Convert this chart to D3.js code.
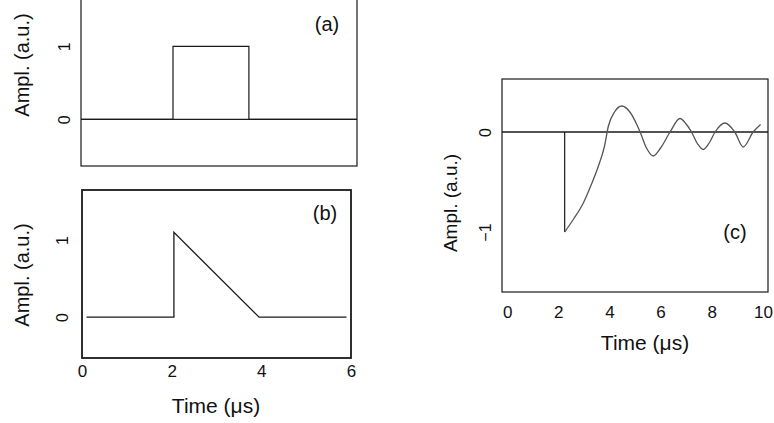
<!DOCTYPE html>
<html><head><meta charset="utf-8">
<script src="https://cdn.jsdelivr.net/npm/d3@7"></script>
<style>
body{margin:0;background:#fff;}
svg text{font-family:"Liberation Sans",Arial,Helvetica,sans-serif;fill:#111;}
</style></head>
<body><svg id="c" width="774" height="423"></svg>
<script>
// ---- data ----
const panelLabels = ["(a)", "(b)", "(c)"];
const xTicksB = [0, 2, 4, 6];
const xTicksC = [0, 2, 4, 6, 8, 10];
const yTicksAB = [0, 1];
const yTicksC = [0, -1];
// (a) rectangular pulse
const pulseA_t = [0, 2.0, 2.0, 3.65, 3.65, 6];
const pulseA_v = [0, 0, 1, 1, 0, 0];
// (b) triangular pulse
const triB_t = [0.1, 2.05, 2.05, 3.95, 5.9];
const triB_v = [0, 0, 1.1, 0, 0];
// (c) excitation step and ringing response
const stepC_t = [2.25, 2.25];
const stepC_v = [0, -1.0];
const respC_t = [2.25, 2.6, 2.98, 3.3, 3.57, 3.8, 3.96, 4.2, 4.48, 4.8, 5.07, 5.2, 5.45, 5.71, 6.0, 6.37, 6.76, 7.0, 7.21, 7.45, 7.67, 7.9, 8.13, 8.52, 8.9, 9.23, 9.62, 9.91];
const respC_v = [-1.0, -0.87, -0.71, -0.52, -0.34, -0.15, 0.06, 0.2, 0.26, 0.2, 0.075, 0, -0.16, -0.24, -0.16, 0, 0.135, 0.08, 0, -0.12, -0.175, -0.11, 0, 0.09, 0, -0.15, 0, 0.075];

const svg = d3.select("#c");
const ink = "#1a1a1a";
const FONT = '"Liberation Sans",Arial,sans-serif';

function panel(o){
  const x = d3.scaleLinear().domain(o.xd).range(o.xr);
  const y = d3.scaleLinear().domain(o.yd).range(o.yr);
  const g = svg.append("g");
  // frame
  g.append("rect").attr("x", o.xr[0]).attr("y", o.yr[1])
    .attr("width", o.xr[1]-o.xr[0]).attr("height", o.yr[0]-o.yr[1])
    .attr("fill","none").attr("stroke", ink).attr("stroke-width", o.frameW||1.2);
  // y axis labels (rotated, no tick marks)
  const ya = d3.axisLeft(y).tickValues(o.yt).tickSize(0).tickPadding(0).tickFormat(d3.format("d"));
  const yg = g.append("g").attr("transform", `translate(${o.ytx},0)`).call(ya);
  yg.select(".domain").remove();
  yg.selectAll("text").attr("transform","rotate(-90)")
    .attr("x",0).attr("y",0).attr("dy","0.35em").attr("text-anchor","middle")
    .style("font-size","16px").style("font-family",FONT).style("fill","#111");
  // y title
  g.append("text").attr("transform", `translate(${o.ylx},${o.yly}) rotate(-90)`)
    .attr("text-anchor","middle").attr("dy","0.35em").style("font-size", o.ylfs+"px").text("Ampl. (a.u.)");
  // x axis
  if (o.xt){
    const xa = d3.axisBottom(x).tickValues(o.xt).tickSize(0).tickPadding(0).tickFormat(d3.format("d"));
    const xg = g.append("g").attr("transform", `translate(0,${o.xty})`).call(xa);
    xg.select(".domain").remove();
    xg.selectAll("text").attr("y",0).attr("dy","0.35em").style("font-size","17px")
      .style("font-family",FONT).style("fill","#111");
    g.append("text").attr("x", o.xlx).attr("y", o.xly).attr("text-anchor","middle")
      .attr("dy","0.35em").style("font-size","21px").text("Time (\u03bcs)");
  }
  // panel label
  g.append("text").attr("x", o.plx).attr("y", o.ply).attr("text-anchor","middle")
    .attr("dy","0.35em").style("font-size","20px").text(o.label);
  return {x, y, g};
}

const line = (x,y,curve) => d3.line().x(d=>x(d[0])).y(d=>y(d[1])).curve(curve||d3.curveLinear);

// Panel (a)
{
  const p = panel({xd:[0,6], xr:[81,357], yd:[-0.64,1.65], yr:[166,-1], yt:yTicksAB,
    ytx:64, ylx:22, yly:65, ylfs:20, plx:327, ply:24, label:panelLabels[0]});
  p.g.append("line").attr("x1",p.x(0)).attr("x2",p.x(6)).attr("y1",p.y(0)).attr("y2",p.y(0))
    .attr("stroke",ink).attr("stroke-width",1.2);
  p.g.append("path").datum(pulseA_t.map((t,i)=>[t,pulseA_v[i]]))
    .attr("d", line(p.x,p.y)).attr("fill","none").attr("stroke",ink).attr("stroke-width",1.2);
}
// Panel (b)
{
  const p = panel({xd:[0,6], xr:[82,351], yd:[-0.53,1.65], yr:[358,190], yt:yTicksAB,
    ytx:62, ylx:22, yly:275, ylfs:20, xt:xTicksB, xty:371, xlx:216, xly:406,
    plx:325, ply:213, label:panelLabels[1], frameW:1.8});
  p.g.append("path").datum(triB_t.map((t,i)=>[t,triB_v[i]]))
    .attr("d", line(p.x,p.y)).attr("fill","none").attr("stroke",ink).attr("stroke-width",1.3);
}
// Panel (c)
{
  const p = panel({xd:[-0.2,10.2], xr:[502,768], yd:[-1.6,0.53], yr:[292,79], yt:yTicksC,
    ytx:485, ylx:450, yly:203, ylfs:19, xt:xTicksC, xty:312, xlx:645, xly:343,
    plx:735, ply:232, label:panelLabels[2]});
  p.g.append("line").attr("x1",p.x(-0.2)).attr("x2",p.x(10.2)).attr("y1",p.y(0)).attr("y2",p.y(0))
    .attr("stroke",ink).attr("stroke-width",1.3);
  p.g.append("path").datum(stepC_t.map((t,i)=>[t,stepC_v[i]]))
    .attr("d", line(p.x,p.y)).attr("fill","none").attr("stroke",ink).attr("stroke-width",1.2);
  p.g.append("path").datum(respC_t.map((t,i)=>[t,respC_v[i]]))
    .attr("d", line(p.x,p.y,d3.curveMonotoneX)).attr("fill","none").attr("stroke","#555").attr("stroke-width",1.3);
}
</script></body></html>
